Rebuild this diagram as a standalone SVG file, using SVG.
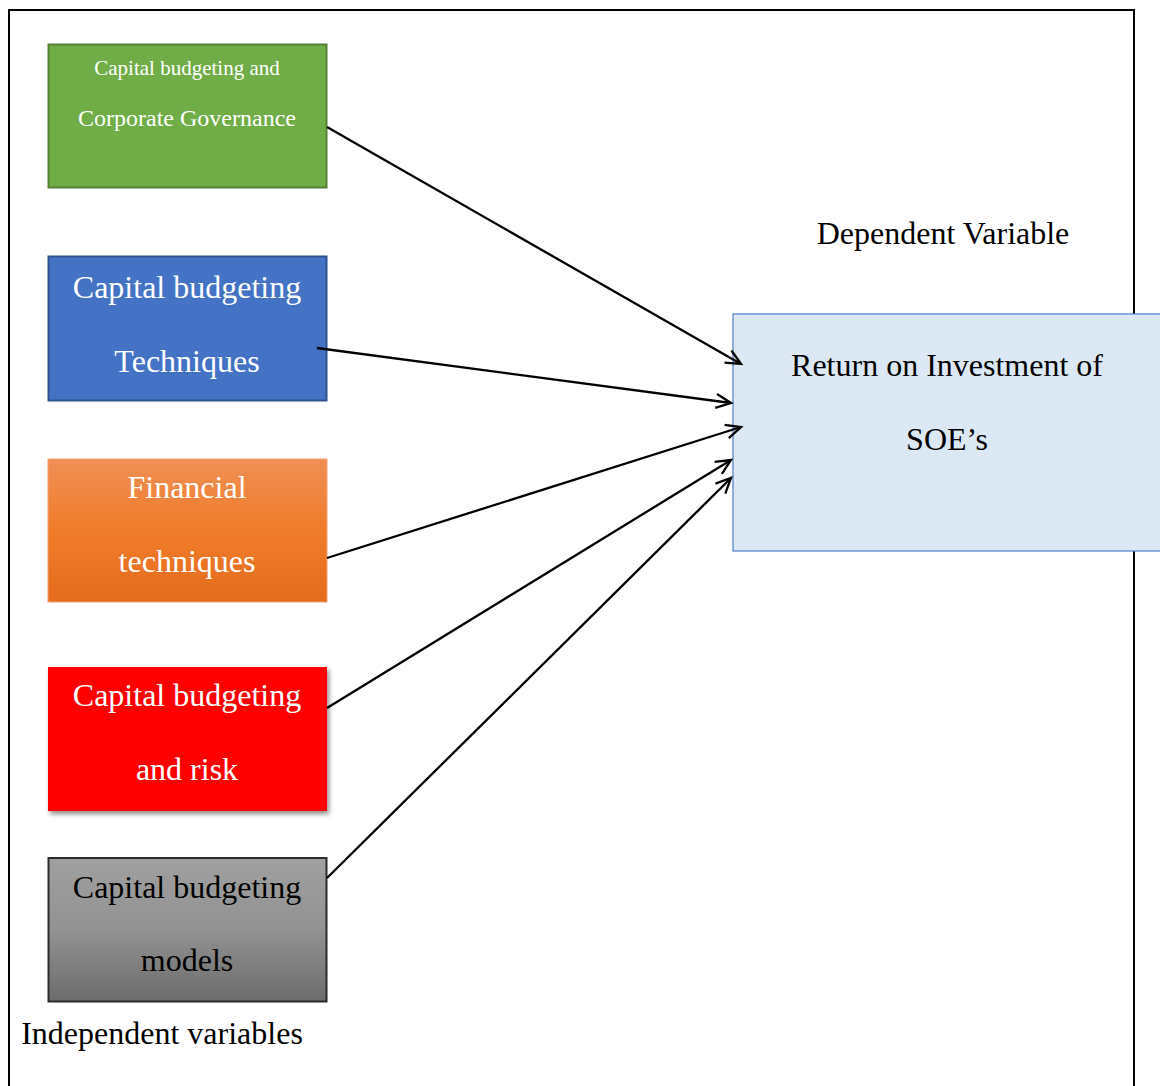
<svg xmlns="http://www.w3.org/2000/svg" width="1160" height="1086" viewBox="0 0 1160 1086">
<style>
.t{font-family:"Liberation Serif","Times New Roman",serif;font-size:32px;text-anchor:middle}
.w{fill:#ffffff}
.k{fill:#000000}
.c{fill:none;stroke:#000;stroke-width:2.3}
</style>
<defs>
<linearGradient id="gOr" x1="0" y1="0" x2="0" y2="1">
<stop offset="0" stop-color="#f08f55"/>
<stop offset="0.5" stop-color="#f07c2a"/>
<stop offset="1" stop-color="#e46c1c"/>
</linearGradient>
<linearGradient id="gGr" x1="0" y1="0" x2="0" y2="1">
<stop offset="0" stop-color="#a0a0a0"/>
<stop offset="0.5" stop-color="#929292"/>
<stop offset="1" stop-color="#6c6c6c"/>
</linearGradient>
<filter id="sh" x="-10%" y="-10%" width="125%" height="130%">
<feDropShadow dx="2" dy="3" stdDeviation="2.5" flood-color="#000" flood-opacity="0.45"/>
</filter>
<marker id="ah" markerUnits="userSpaceOnUse" markerWidth="20" markerHeight="20" refX="16" refY="8" orient="auto">
<path d="M1,1 L16,8 L1,15" fill="none" stroke="#000" stroke-width="2.3"/>
</marker>
</defs>
<rect x="0" y="0" width="1160" height="1086" fill="#ffffff"/>
<path d="M9,1090 L9,10 L1134,10 L1134,1090" fill="none" stroke="#000" stroke-width="2"/>

<g id="n-dep-label"><text class="t k" x="943" y="244">Dependent Variable</text></g>

<g id="n-roi">
<rect x="733" y="314" width="440" height="237" fill="#dde8f5" stroke="#4f7dc9" stroke-width="1.2"/>
<text class="t k" x="947" y="376">Return on Investment of</text>
<text class="t k" x="947" y="450">SOE’s</text>
</g>

<g id="n-governance">
<rect x="48.5" y="44.5" width="278" height="143" fill="#70ad47" stroke="#548235" stroke-width="2"/>
<text class="t w" x="187" y="75" style="font-size:21px">Capital budgeting and</text>
<text class="t w" x="187" y="126" style="font-size:24px">Corporate Governance</text>
</g>

<g id="n-techniques">
<rect x="48.5" y="256.5" width="278" height="144" fill="#4472c4" stroke="#2f528f" stroke-width="2"/>
<text class="t w" x="187" y="298">Capital budgeting</text>
<text class="t w" x="187" y="372">Techniques</text>
</g>

<g id="n-financial">
<rect x="48" y="459" width="279" height="143" fill="url(#gOr)" stroke="#f4a070" stroke-width="1"/>
<text class="t w" x="187" y="498">Financial</text>
<text class="t w" x="187" y="572">techniques</text>
</g>

<g id="n-risk">
<rect x="48" y="667" width="279" height="144" fill="#ff0000" filter="url(#sh)"/>
<text class="t w" x="187" y="706">Capital budgeting</text>
<text class="t w" x="187" y="780">and risk</text>
</g>

<g id="n-models">
<rect x="48.5" y="858" width="278" height="143.5" fill="url(#gGr)" stroke="#2b2b2b" stroke-width="2"/>
<text class="t k" x="187" y="898">Capital budgeting</text>
<text class="t k" x="187" y="971">models</text>
</g>

<g id="n-indep-label"><text class="t k" x="162" y="1044">Independent variables</text></g>

<g id="connectors">
<line class="c" x1="327" y1="127" x2="741" y2="364" marker-end="url(#ah)"/>
<line class="c" x1="317" y1="348" x2="731" y2="403" marker-end="url(#ah)"/>
<line class="c" x1="327" y1="558" x2="741" y2="427" marker-end="url(#ah)"/>
<line class="c" x1="327" y1="708" x2="731" y2="460" marker-end="url(#ah)"/>
<line class="c" x1="327" y1="878" x2="731" y2="478" marker-end="url(#ah)"/>
</g>
</svg>
